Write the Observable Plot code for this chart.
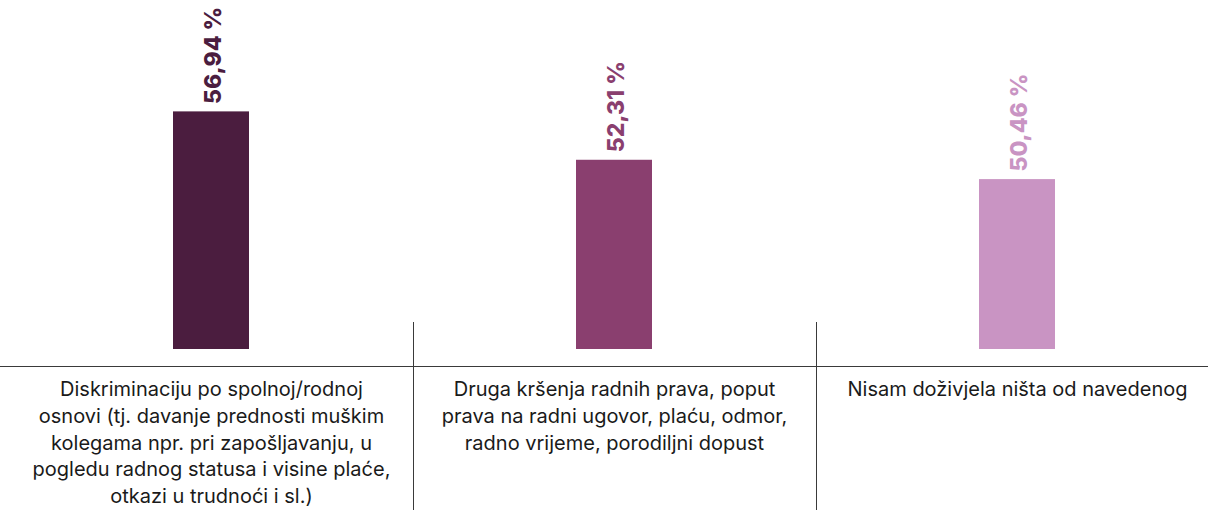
<!DOCTYPE html>
<html>
<head>
<meta charset="utf-8">
<script src="https://cdn.jsdelivr.net/npm/d3@7"></script>
<script src="https://cdn.jsdelivr.net/npm/@observablehq/plot@0.6"></script>
<style>
  html, body { margin: 0; padding: 0; background: #fff; }
  #chart svg { display: block; }
</style>
</head>
<body>
<div id="chart"></div>
<script>
const categories = [
  "Diskriminaciju po spolnoj/rodnoj\nosnovi (tj. davanje prednosti muškim\nkolegama npr. pri zapošljavanju, u\npogledu radnog statusa i visine plaće,\notkazi u trudnoći i sl.)",
  "Druga kršenja radnih prava, poput\nprava na radni ugovor, plaću, odmor,\nradno vrijeme, porodiljni dopust",
  "Nisam doživjela ništa od navedenog"
];
const values = [56.94, 52.31, 50.46];
const colors = ["#4b1d3f", "#8a3f6f", "#c994c3"];

const data = categories.map((c, i) => ({category: c, value: values[i], color: colors[i]}));
const fmt = v => v.toFixed(2).replace(".", ",") + " %";

const frameLines = (index, scales, vals, dims) => {
  const x = scales.x;
  const bw = typeof x.bandwidth === "function" ? x.bandwidth() : (x.bandwidth ?? 0);
  const centers = categories.map(c => x(c) + bw / 2);
  const g = d3.create("svg:g").attr("stroke", "#3a3a3a").attr("stroke-width", 1);
  const base = dims.height - dims.marginBottom;
  g.append("line")
    .attr("x1", 0).attr("x2", dims.width)
    .attr("y1", base + 17.5).attr("y2", base + 17.5);
  for (let i = 1; i < centers.length; i++) {
    const sx = Math.round((centers[i - 1] + centers[i]) / 2) + 0.5;
    g.append("line")
      .attr("x1", sx).attr("x2", sx)
      .attr("y1", base - 27).attr("y2", dims.height);
  }
  return g.node();
};

const chart = Plot.plot({
  width: 1208,
  height: 510,
  marginTop: 0,
  marginBottom: 161,
  marginLeft: 0,
  marginRight: 0,
  style: {fontFamily: "Inter, 'Noto Sans', sans-serif", background: "#fff", overflow: "visible"},
  x: {domain: categories, range: [9.5, 1218.5], paddingInner: 0.8114, paddingOuter: 0.4057, axis: null},
  y: {domain: [34.2, 67.6], axis: null},
  marks: [
    Plot.barY(data, {x: "category", y1: 34.2, y2: "value", fill: "color"}),
    Plot.text(data, {
      x: "category", y: "value", text: d => fmt(d.value), fill: "color",
      rotate: -90, textAnchor: "start", dy: -8, dx: 2,
      fontSize: 23, fontWeight: 800
    }),
    frameLines,
    Plot.text(data, {
      x: "category", frameAnchor: "bottom", text: "category",
      lineAnchor: "top", dy: 28, lineHeight: 1.33,
      fontSize: 20, fill: "#1a1a1a"
    })
  ]
});
document.getElementById("chart").append(chart);
</script>
</body>
</html>
